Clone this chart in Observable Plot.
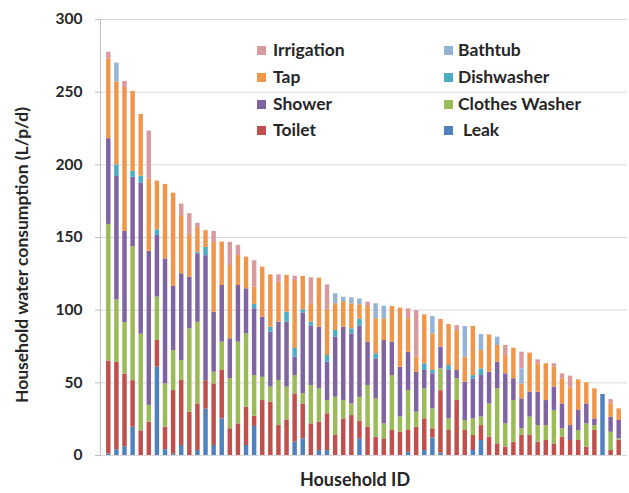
<!DOCTYPE html>
<html><head><meta charset="utf-8">
<script src="https://cdn.jsdelivr.net/npm/d3@7"></script>
<script src="https://cdn.jsdelivr.net/npm/@observablehq/plot@0.6"></script>
<style>
body{margin:0;background:#fff;}
#chart{position:relative;width:629px;height:493px;font-family:Lato,sans-serif;}
.lg{position:absolute;font:bold 17.5px Lato,sans-serif;color:#262626;line-height:20px;white-space:pre;}
.sw{position:absolute;width:9px;height:9px;}
#ylab{position:absolute;left:22px;top:255px;transform:translate(-50%,-50%) rotate(-90deg);font:bold 17.5px Lato,sans-serif;color:#262626;white-space:nowrap;line-height:20px;}
</style></head><body><div id="chart"></div><script>
const households = [1,2,3,4,5,6,7,8,9,10,11,12,13,14,15,16,17,18,19,20,21,22,23,24,25,26,27,28,29,30,31,32,33,34,35,36,37,38,39,40,41,42,43,44,45,46,47,48,49,50,51,52,53,54,55,56,57,58,59,60,61,62,63,64];
const leak       = [1,4,6,19.5,0,0,60.8,4,1,6.9,0,3.4,32,6.9,25.2,0,0,6.9,20,0,0,0,0,9.2,11.5,0,3.4,3.4,0,0,0,11.5,0,0,0,0,0,2.3,0,3.4,12,1.6,0,0,0,3.4,10.3,0,0,0,0,0,0,0,0,0,0,0,0,0,0,42,0,0];
const toilet     = [64,60,50,32,17,23,18.3,15.5,43.7,44.7,29.8,32.1,19.5,42.4,33.3,18.4,21.8,26.3,7,37.8,36.7,20.6,24.5,33.2,24,21.8,19.5,25.3,13.8,25.2,27.5,12,19.5,12.6,11.5,17.2,16,14.9,19.5,21.8,6.4,43,17.2,37.8,17.2,10.4,10.3,12.6,8,5.7,9.2,13.8,13.8,9.2,10.3,8,12.6,10.3,10.3,5.7,17.2,0,3.4,10.5];
const washer     = [94,43,35.5,92,66.5,11.5,29.9,29.8,27.5,13.8,57.4,56.2,0,8,19.5,34.4,56.2,50.5,28,16,10.3,31,22.5,12.6,6.9,26.4,23,9.1,26.3,12.6,8,16.5,28.7,26.4,10.3,37.8,10.4,27.5,10.3,20.7,13.7,15,8,15,6.9,11.4,5.8,22.9,37.9,16.1,28.6,4.6,12.6,11.4,10.3,23,5.8,0,6.9,16.1,3.4,0,12.6,1];
const shower     = [59,85,62.7,48,104,106,42.4,86,44.1,59.6,35.5,47.1,86,41.3,39,27.5,39,31,46,41.3,37.8,40.1,44.7,12.7,55.6,41,42.4,26.4,41.3,50.5,48.2,49,29.8,27.5,57.3,23,34.4,26.4,27.5,12.6,24.1,15,33.3,5.7,26.3,27.5,28.6,21.8,18.3,34.4,15,20.6,17.2,23,17.2,16,17.1,10.3,13.8,13.7,4.6,0,10.4,12.6];
const dishwasher = [0,8,0,4,4.7,0,3.9,0,0,0,0,1,5.7,0,0,0,0,0,3,0,3.5,0,6.9,5.9,2.3,2.5,0,4.6,4.6,0,3.5,4.7,0,3.5,0,0,0,0,0,4.6,2.3,0,3.4,0,0,2.3,4.6,0,0,0,0,0,0,0,0,0,0,0,0,0,0,0,0,0];
const tap        = [55,57,99,55,42.5,49.7,33.5,51.2,64.2,40,28.7,17,11.5,48,29.8,50.4,20.6,21.8,12,34.5,36,27.6,25.3,46.8,22.9,12.7,33.7,31,18.4,17.6,17.2,10,24.5,24.1,15,24.5,40.6,23,10.4,33.7,25.2,19,28.2,27.5,17.3,33.8,12.6,25.7,11.5,12.5,21,10.3,26.8,19.5,25.3,13.8,17.3,26,21.1,14.5,20.7,0,9.1,8];
const bathtub    = [0,13,0,0,0,0,0,0,0,0,0,0,0,0,0,0,0,0,0,0,0,0,0,0,0,0,0,0,6.9,3,4.1,4,0,10.3,8.6,0,0,0,0,0,11.9,0,0,0,21,0,11,0,5.7,0,0,10.3,0,0,0,0,0,0,0,0,0,0,0,0];
const irrigation = [4.5,0,4.2,0,0,33,0,0,0,8,15,3,0,7.6,0,16,7,0,18,0,0,5,0,3,0,17.9,0,17.6,0,0,0,0,3,0,0,0,0,6.8,32,0,0,0,0,3.4,0,0,0,0,0,7,0,11.5,0,2.7,0,2.3,3.4,8,0,0,0,0,3,0];

const seriesNames  = ["Leak","Toilet","Clothes Washer","Shower","Dishwasher","Tap","Bathtub","Irrigation"];
const seriesColors = ["#4F81BD","#C0504D","#9BBB59","#8064A2","#4BACC6","#F0964B","#95B3D7","#D99A9E"];
const yTicks = [0,50,100,150,200,250,300];
const legendOrder = ["Irrigation","Tap","Shower","Toilet","Bathtub","Dishwasher","Clothes Washer","Leak"];
const yLabel = "Household water consumption (L/p/d)";
const xLabel = "Household ID";

const seriesValues = [leak,toilet,washer,shower,dishwasher,tap,bathtub,irrigation];
const rows = [];
households.forEach((h,i)=>seriesNames.forEach((s,j)=>rows.push({household:h,use:s,value:seriesValues[j][i]})));

const plot = Plot.plot({
  width:629, height:493,
  marginLeft:100, marginRight:2, marginTop:19, marginBottom:38,
  style:{fontFamily:"Lato, sans-serif", fontSize:"16px", fontWeight:"bold", color:"#262626", background:"#fff"},
  x:{type:"band", domain:households, paddingInner:0.45, paddingOuter:0.75, round:false, axis:null},
  y:{domain:[0,300]},
  color:{domain:seriesNames, range:seriesColors},
  marks:[
    Plot.gridY(yTicks,{stroke:"#d9d9d9", strokeOpacity:1}),
    Plot.barY(rows,{x:"household", y:"value", fill:"use"}),
    Plot.frame({anchor:"left", stroke:"#bfbfbf"}),
    Plot.axisY(yTicks,{tickSize:5, tickPadding:13, stroke:"#bfbfbf", fill:"#262626", fontWeight:"bold", fontSize:15.5, label:null}),
    Plot.text([xLabel],{frameAnchor:"bottom", dx:-9, dy:30, lineAnchor:"bottom", fontWeight:"bold", fontSize:18, fill:"#262626"})
  ]
});
const chart = document.getElementById("chart");
chart.appendChild(plot);

const yl = document.createElement("div");
yl.id = "ylab"; yl.textContent = yLabel;
chart.appendChild(yl);

const baselines = [56.7,83.4,110,136.7];
legendOrder.forEach((name,k)=>{
  const col = k<4?0:1, row = k%4;
  const sx = col?444:257, tx = col?458:273;
  const sw = document.createElement("div");
  sw.className="sw";
  sw.style.left=sx+"px"; sw.style.top=(baselines[row]-10.5)+"px";
  sw.style.background=seriesColors[seriesNames.indexOf(name)];
  chart.appendChild(sw);
  const t = document.createElement("div");
  t.className="lg";
  t.style.left=(tx + (name==="Leak"?5:0))+"px"; t.style.top=(baselines[row]-16.5)+"px";
  t.textContent=name;
  chart.appendChild(t);
});
</script></body></html>
